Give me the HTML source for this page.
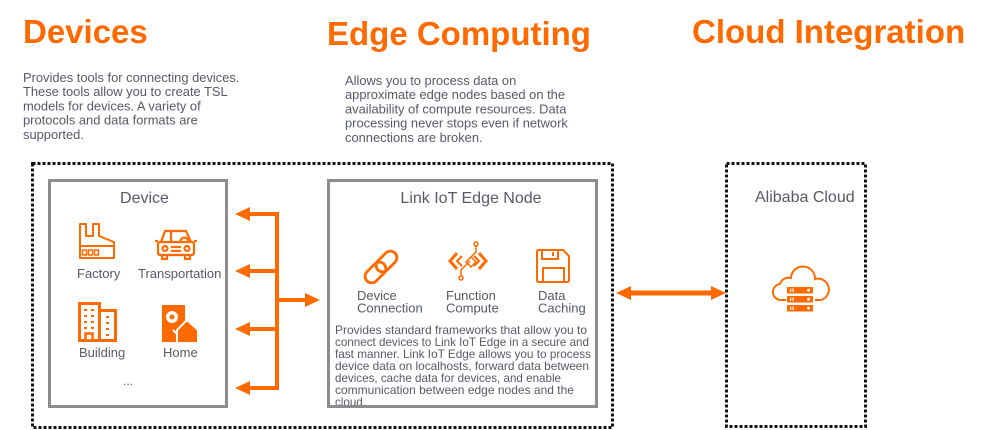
<!DOCTYPE html>
<html>
<head>
<meta charset="utf-8">
<style>
  html, body { margin: 0; padding: 0; background: #fff; }
  svg { display: block; }
  .title { font-family: "Liberation Sans", Arial, sans-serif; font-weight: bold; font-size: 33px; fill: #FF6A00; }
  .desc { font-family: "Liberation Sans", Arial, sans-serif; font-size: 12.9px; fill: #555a66; }
  .small { font-family: "Liberation Sans", Arial, sans-serif; font-size: 12px; fill: #555a66; }
  .lbl { font-family: "Liberation Sans", Arial, sans-serif; font-size: 13px; fill: #555a66; }
  .hdr { font-family: "Liberation Sans", Arial, sans-serif; font-size: 16px; fill: #555a66; }
</style>
</head>
<body>
<svg width="990" height="430" viewBox="0 0 990 430" xmlns="http://www.w3.org/2000/svg">
  <!-- Titles -->
  <text class="title" x="23" y="43">Devices</text>
  <text class="title" x="327" y="45">Edge Computing</text>
  <text class="title" x="692" y="43">Cloud Integration</text>

  <!-- Device description -->
  <text class="desc" x="23" y="82">Provides tools for connecting devices.</text>
  <text class="desc" x="23" y="96.2">These tools allow you to create TSL</text>
  <text class="desc" x="23" y="110.4">models for devices. A variety of</text>
  <text class="desc" x="23" y="124.6">protocols and data formats are</text>
  <text class="desc" x="23" y="138.8">supported.</text>

  <!-- Edge description -->
  <text class="desc" x="345" y="85">Allows you to process data on</text>
  <text class="desc" x="345" y="99.2">approximate edge nodes based on the</text>
  <text class="desc" x="345" y="113.4">availability of compute resources. Data</text>
  <text class="desc" x="345" y="127.6">processing never stops even if network</text>
  <text class="desc" x="345" y="141.8">connections are broken.</text>

  <!-- Dotted boxes -->
  <rect x="32.5" y="163.5" width="580" height="264" fill="none" stroke="#111" stroke-width="3" stroke-dasharray="3 2"/>
  <rect x="726.5" y="163.5" width="139" height="263" fill="none" stroke="#111" stroke-width="3" stroke-dasharray="3 2"/>

  <!-- Device box -->
  <text class="hdr" x="144.5" y="203" text-anchor="middle">Device</text>

  <!-- Factory icon -->
  <g fill="none" stroke="#FF6A00" stroke-width="2" stroke-linejoin="round">
    <path d="M80,258 V224 H86 V236 H93 V224 H99 V236 L114,242 V258 Z"/>
    <path d="M80,246 H114"/>
    <rect x="82.5" y="250" width="4" height="5" stroke-width="1.5"/>
    <rect x="88.5" y="250" width="4" height="5" stroke-width="1.5"/>
    <rect x="94.5" y="250" width="4" height="5" stroke-width="1.5"/>
  </g>
  <text class="lbl" x="77" y="278">Factory</text>

  <!-- Car icon -->
  <g fill="none" stroke="#FF6A00" stroke-width="2.2" stroke-linejoin="round">
    <path d="M161,242 L165,231 H186 L191,242"/>
    <path d="M171,231 V241"/>
    <path d="M180,241 Q184,234 189,241"/>
    <rect x="158" y="242" width="36" height="13" rx="2"/>
    <path d="M155,241 H158 M194,241 H197"/>
    <circle cx="165" cy="248.5" r="2.5"/>
    <circle cx="187" cy="248.5" r="2.5"/>
    <path d="M171,247 H181 M171,251 H181"/>
    <path d="M162,255 V259 H167 V255 M185,255 V259 H190 V255"/>
  </g>
  <text class="lbl" x="138" y="278">Transportation</text>

  <!-- Building icon -->
  <g>
    <rect x="79.5" y="303.5" width="20" height="37" fill="#fff" stroke="#FF6A00" stroke-width="3"/>
    <rect x="99.5" y="310.5" width="16" height="30" fill="#fff" stroke="#FF6A00" stroke-width="3"/>
    <g fill="#FF6A00">
      <rect x="84" y="309" width="3" height="2"/><rect x="91" y="309" width="3" height="2"/>
      <rect x="84" y="315" width="3" height="2"/><rect x="91" y="315" width="3" height="2"/>
      <rect x="84" y="321" width="3" height="2"/><rect x="91" y="321" width="3" height="2"/>
      <rect x="84" y="327" width="3" height="2"/><rect x="91" y="327" width="3" height="2"/>
      <rect x="106" y="316" width="3" height="2"/>
      <rect x="106" y="322" width="3" height="2"/>
      <rect x="106" y="328" width="3" height="2"/>
      <rect x="106" y="334" width="3" height="2"/>
    </g>
    <rect x="85.5" y="333.5" width="7" height="7" fill="#fff" stroke="#FF6A00" stroke-width="2.5"/>
  </g>
  <text class="lbl" x="79" y="357">Building</text>

  <!-- Home icon -->
  <g>
    <rect x="162" y="305" width="23" height="37" fill="#FF6A00"/>
    <circle cx="172" cy="317" r="6" fill="#fff"/>
    <circle cx="172" cy="317" r="2.5" fill="#FF6A00"/>
    <path d="M173,330 L177,334 V342" stroke="#fff" stroke-width="2" fill="none"/>
    <polygon points="177,343 177,330 187,320 198,330 198,343" fill="#FF6A00" stroke="#fff" stroke-width="2"/>
  </g>
  <text class="lbl" x="163" y="357">Home</text>

  <text class="small" x="123" y="385">...</text>

  <rect x="49.5" y="180.5" width="177" height="226" fill="none" stroke="#8c8c8c" stroke-width="3"/>

  <!-- Connector arrows (device side) -->
  <g stroke="#FF6A00" stroke-width="4" fill="none">
    <path d="M277,212 V390"/>
    <path d="M279,214 H246"/>
    <path d="M279,271 H246"/>
    <path d="M277,329 H246"/>
    <path d="M279,388 H246"/>
    <path d="M275,300 H308"/>
  </g>
  <g fill="#FF6A00">
    <polygon points="235,214 250,207 250,221"/>
    <polygon points="235,271 250,264 250,278"/>
    <polygon points="235,329 250,322 250,336"/>
    <polygon points="235,388 250,381 250,395"/>
    <polygon points="320,300 305,293 305,307"/>
  </g>

  <!-- Edge node box -->
  <text class="hdr" x="471" y="203" text-anchor="middle">Link IoT Edge Node</text>

  <!-- Link icon -->
  <g fill="none" stroke="#FF6A00" stroke-width="2.8">
    <rect x="-12" y="-6.5" width="24" height="13" rx="6.5" transform="translate(386.5,261.5) rotate(-45)"/>
    <rect x="-12" y="-6.5" width="24" height="13" rx="6.5" transform="translate(375.5,272.5) rotate(-45)"/>
  </g>

  <!-- Function compute icon -->
  <g fill="none" stroke="#FF6A00" stroke-linejoin="miter">
    <path d="M457,253 L450,261 L457,269" stroke-width="3"/>
    <path d="M462,256 L457,261 L462,266" stroke-width="2"/>
    <path d="M479,253 L486,261 L479,269" stroke-width="3"/>
    <path d="M474,256 L479,261 L474,266" stroke-width="2"/>
    <path d="M476,246 V252 L466,262 L471,267 L476,262 L471,257" stroke-width="1.5"/>
    <path d="M461,276 V270 L470,261" stroke-width="1.5"/>
    <circle cx="476" cy="244" r="2" stroke-width="1.5"/>
    <circle cx="461" cy="278" r="2" stroke-width="1.5"/>
  </g>

  <!-- Save icon -->
  <g fill="none" stroke="#FF6A00" stroke-width="2">
    <path d="M539,250 H563 L569,256 V280 Q569,282 567,282 H539 Q537,282 537,280 V252 Q537,250 539,250 Z"/>
    <path d="M542,250 V259 H558 V250"/>
    <path d="M553,252 V256"/>
    <path d="M543,282 V268 H564 V282"/>
  </g>

  <text class="lbl" x="357" y="300">Device</text>
  <text class="lbl" x="357" y="312.5">Connection</text>
  <text class="lbl" x="446" y="300">Function</text>
  <text class="lbl" x="446" y="312.5">Compute</text>
  <text class="lbl" x="538" y="300">Data</text>
  <text class="lbl" x="538" y="312.5">Caching</text>

  <text class="small" x="335" y="334" textLength="252" lengthAdjust="spacingAndGlyphs">Provides standard frameworks that allow you to</text>
  <text class="small" x="335" y="346" textLength="254" lengthAdjust="spacingAndGlyphs">connect devices to Link IoT Edge in a secure and</text>
  <text class="small" x="335" y="358" textLength="256" lengthAdjust="spacingAndGlyphs">fast manner. Link IoT Edge allows you to process</text>
  <text class="small" x="335" y="370" textLength="254" lengthAdjust="spacingAndGlyphs">device data on localhosts, forward data between</text>
  <text class="small" x="335" y="382" textLength="226" lengthAdjust="spacingAndGlyphs">devices, cache data for devices, and enable</text>
  <text class="small" x="335" y="394" textLength="239" lengthAdjust="spacingAndGlyphs">communication between edge nodes and the</text>
  <text class="small" x="335" y="406" textLength="31" lengthAdjust="spacingAndGlyphs">cloud.</text>

  <rect x="328.5" y="180.5" width="268" height="226" fill="none" stroke="#8c8c8c" stroke-width="3"/>

  <!-- Double arrow -->
  <path d="M628,293 H713" stroke="#FF6A00" stroke-width="5"/>
  <polygon points="616,293 631,286 631,300" fill="#FF6A00"/>
  <polygon points="726,293 711,286 711,300" fill="#FF6A00"/>

  <!-- Cloud -->
  <text class="hdr" x="755" y="202">Alibaba Cloud</text>
  <g>
    <path d="M786,300 H782 A8,8 0 0 1 780,284 A9,9 0 0 1 791,278 A12,12 0 0 1 815,279 A10,10 0 0 1 821,300 H815" fill="none" stroke="#FF6A00" stroke-width="2"/>
    <rect x="787" y="287" width="26" height="6.5" fill="#FF6A00"/>
    <rect x="787" y="296" width="26" height="6.5" fill="#FF6A00"/>
    <rect x="787" y="305" width="26" height="6.5" fill="#FF6A00"/>
    <g fill="#fff">
      <rect x="790" y="288.5" width="1.2" height="3.5"/><rect x="792.5" y="288.5" width="1.2" height="3.5"/>
      <rect x="790" y="297.5" width="1.2" height="3.5"/><rect x="792.5" y="297.5" width="1.2" height="3.5"/>
      <rect x="790" y="306.5" width="1.2" height="3.5"/><rect x="792.5" y="306.5" width="1.2" height="3.5"/>
      <circle cx="808.5" cy="290.2" r="1.4"/>
      <circle cx="808.5" cy="299.2" r="1.4"/>
      <circle cx="808.5" cy="308.2" r="1.4"/>
    </g>
  </g>
</svg>
</body>
</html>
